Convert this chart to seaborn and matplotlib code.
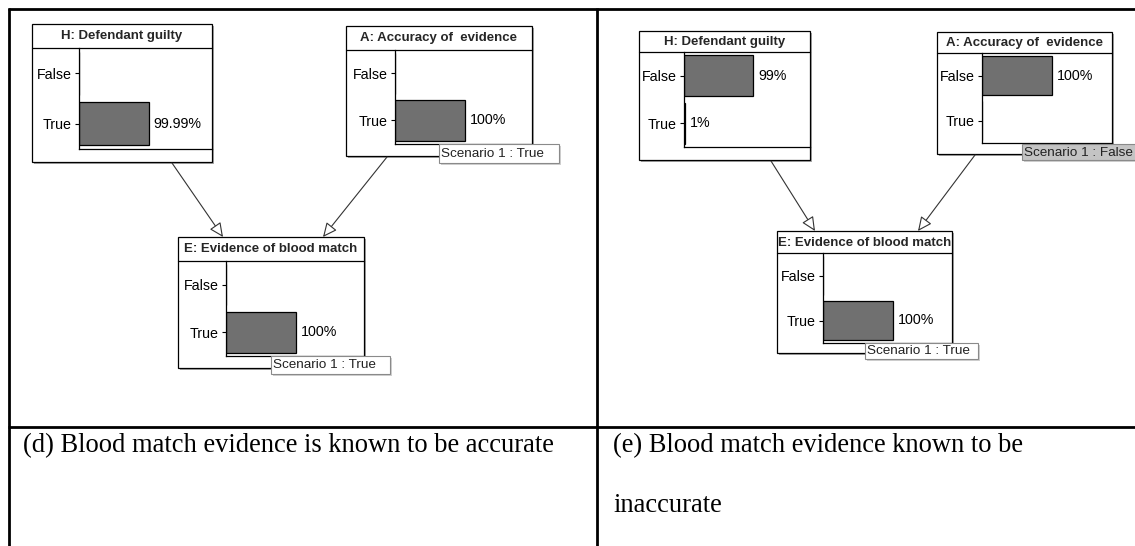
import matplotlib
matplotlib.use("Agg")
import matplotlib.pyplot as plt
import seaborn as sns
import pandas as pd
from matplotlib.patches import Rectangle, FancyArrowPatch

# ---------------- data ----------------
states = ["False", "True"]

# panel (d): blood match evidence known to be accurate
d_guilty = [0.01, 99.99]
d_accuracy = [0, 100]
d_evidence = [0, 100]

# panel (e): blood match evidence known to be inaccurate
e_guilty = [99, 1]
e_accuracy = [100, 0]
e_evidence = [0, 100]

node_titles = ["H: Defendant guilty", "A: Accuracy of  evidence", "E: Evidence of blood match"]
d_tags = [None, "Scenario 1 : True", "Scenario 1 : True"]
e_tags = [None, "Scenario 1 : False", "Scenario 1 : True"]
caption_d = ["(d) Blood match evidence is known to be accurate"]
caption_e = ["(e) Blood match evidence known to be", "inaccurate"]

# ---------------- layout (pixels) ----------------
W, H = 1135, 546
BAR_PX = 70  # pixel length of a 100% bar

# box x0, y0, x1, y1, title separator y, axis left x, axis bottom y
d_layout = [
    (32, 24, 212, 162, 48, 79, 149),
    (346, 26, 532, 156, 50, 395, 144),
    (178, 237, 364, 368, 261, 226, 356),
]
e_layout = [
    (639, 31, 810, 160, 52, 684, 147),
    (937, 32, 1112, 154, 53, 982, 143),
    (777, 231, 952, 353, 253, 823, 343),
]
d_tag_pos = [None, (439, 144, 559, 163), (271, 356, 390, 374)]
e_tag_pos = [None, (1022, 144, 1140, 160), (865, 343, 978, 359)]
d_arrows = [((172, 163), (223, 237)), ((387, 157), (323, 237))]
e_arrows = [((771, 161), (815, 231)), ((975, 155), (918, 231))]

sns.set_style("white")
plt.rcParams["font.family"] = ["Liberation Sans", "DejaVu Sans"]

fig = plt.figure(figsize=(W / 100, H / 100), dpi=100)
bg = fig.add_axes([0, 0, 1, 1])
bg.set_xlim(0, W)
bg.set_ylim(H, 0)
bg.axis("off")

# table grid
LW_T = 2.0
bg.plot([8, W], [9, 9], color="black", lw=LW_T, solid_capstyle="butt")
bg.plot([9, 9], [8, H], color="black", lw=LW_T, solid_capstyle="butt")
bg.plot([597, 597], [8, H], color="black", lw=LW_T, solid_capstyle="butt")
bg.plot([8, W], [427, 427], color="black", lw=LW_T, solid_capstyle="butt")

# captions
CAP_FS = 19.1
for i, line in enumerate(caption_d):
    bg.text(23, 452 + 60 * i, line, fontsize=CAP_FS, family="Liberation Serif",
            va="baseline", ha="left", color="black")
for i, line in enumerate(caption_e):
    bg.text(613, 452 + 60 * i, line, fontsize=CAP_FS, family="Liberation Serif",
            va="baseline", ha="left", color="black")

overlay_items = []


def draw_node(lay, title, values, tag, tagpos, gray_tag=False):
    x0, y0, x1, y1, sep, axl, axb = lay
    # shadow
    bg.add_patch(Rectangle((x0 + 2, y0 + 2), x1 - x0, y1 - y0, facecolor="#a8a8a8",
                           edgecolor="none", zorder=1))
    bg.add_patch(Rectangle((x0, y0), x1 - x0, y1 - y0, facecolor="white",
                           edgecolor="black", lw=0.9, zorder=2))
    bg.plot([x0, x1], [sep, sep], color="black", lw=0.9, zorder=3)
    bg.text((x0 + x1) / 2, (y0 + sep) / 2 + 0.5, title, fontsize=9.5, fontweight="bold",
            ha="center", va="center", zorder=4)

    ax = fig.add_axes([axl / W, 1 - axb / H, (x1 - axl) / W, (axb - sep) / H])
    ax.set_facecolor("none")
    df = pd.DataFrame({"state": states, "pct": values})
    sns.barplot(data=df, x="pct", y="state", order=states, orient="h",
                color="#707070", saturation=1, edgecolor="black", linewidth=0.9,
                width=0.86, ax=ax)
    ax.set_xlim(0, 100 * (x1 - axl) / BAR_PX)
    ax.set_ylim(1.5, -0.5)
    ax.set_xticks([])
    ax.set_xlabel("")
    ax.set_ylabel("")
    for s in ["top", "right"]:
        ax.spines[s].set_visible(False)
    for s in ["left", "bottom"]:
        ax.spines[s].set_color("black")
        ax.spines[s].set_linewidth(0.9)
    ax.tick_params(axis="y", length=3, width=0.8, pad=2, labelsize=10.3,
                   colors="black", left=True)
    for i, v in enumerate(values):
        if v >= 1:
            ax.annotate(f"{v:g}%", xy=(v, i), xytext=(3.5, 0), textcoords="offset points",
                        ha="left", va="center", fontsize=10.3, color="black")
    if tag is not None:
        overlay_items.append((tag, tagpos, gray_tag))


for lay, title, vals, tag, tp in zip(d_layout, node_titles,
                                     [d_guilty, d_accuracy, d_evidence], d_tags, d_tag_pos):
    draw_node(lay, title, vals, tag, tp)
for lay, title, vals, tag, tp in zip(e_layout, node_titles,
                                     [e_guilty, e_accuracy, e_evidence], e_tags, e_tag_pos):
    draw_node(lay, title, vals, tag, tp, gray_tag=(tag is not None and "False" in tag))

for (a, b) in d_arrows + e_arrows:
    bg.add_patch(FancyArrowPatch(a, b, arrowstyle="-|>,head_length=0.86,head_width=0.4",
                                 mutation_scale=10, shrinkA=0, shrinkB=0,
                                 facecolor="white", edgecolor="#333333", lw=0.8, zorder=5))

# overlay for scenario tags
ov = fig.add_axes([0, 0, 1, 1])
ov.set_xlim(0, W)
ov.set_ylim(H, 0)
ov.axis("off")
ov.set_facecolor("none")
for tag, (tx0, ty0, tx1, ty1), gray in overlay_items:
    ov.add_patch(Rectangle((tx0 + 1.5, ty0 + 1.5), tx1 - tx0, ty1 - ty0,
                           facecolor="#d0d0d0", edgecolor="none", zorder=1))
    ov.add_patch(Rectangle((tx0, ty0), tx1 - tx0, ty1 - ty0,
                           facecolor="#c4c4c4" if gray else "white",
                           edgecolor="#8a8a8a", lw=0.8, zorder=2))
    ov.text(tx0 + 2, (ty0 + ty1) / 2 + 0.5, tag, fontsize=9.7, ha="left", va="center",
            color="#222222", zorder=3)

fig.savefig("out.png", dpi=100)
